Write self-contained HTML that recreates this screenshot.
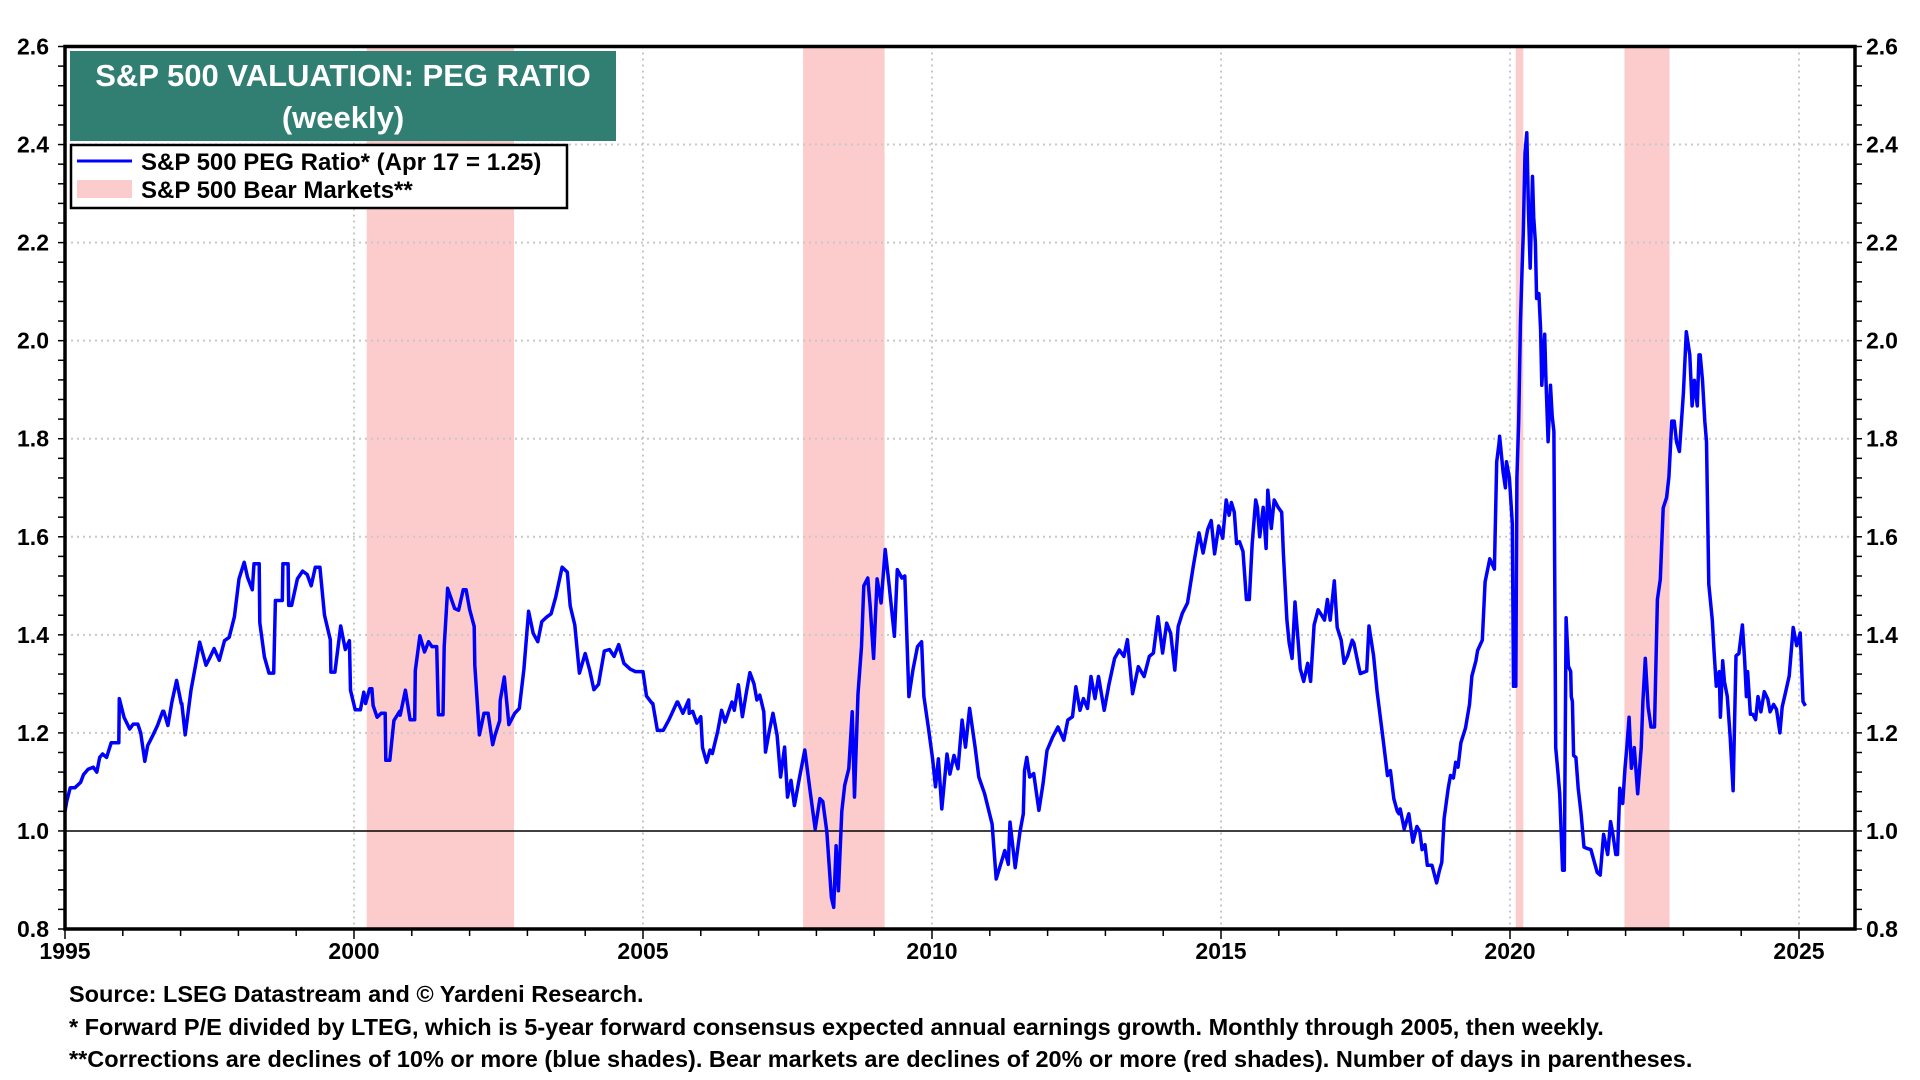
<!DOCTYPE html>
<html><head><meta charset="utf-8"><style>
body{margin:0;background:#fff;}
svg{display:block;font-family:"Liberation Sans",Arial,sans-serif;}
</style></head><body>
<svg id="chart" width="1920" height="1080" viewBox="0 0 1920 1080" xmlns="http://www.w3.org/2000/svg">
<g id="bears"></g>
<g id="grid"></g>
<g id="series"></g>
<g id="axes"></g>
<g>
<rect x="70" y="51" width="546" height="90" fill="#317e72"/>
<text x="343" y="86" text-anchor="middle" font-size="31" font-weight="bold" fill="#fff">S&amp;P 500 VALUATION: PEG RATIO</text>
<text x="343" y="128" text-anchor="middle" font-size="31" font-weight="bold" fill="#fff">(weekly)</text>
</g>
<g>
<rect x="71" y="145" width="496" height="63" fill="#fff" stroke="#000" stroke-width="2.5"/>
<line x1="77" y1="161" x2="132" y2="161" stroke="#0000ff" stroke-width="3"/>
<text x="141" y="170" font-size="24" font-weight="bold">S&amp;P 500 PEG Ratio* (Apr 17 = 1.25)</text>
<rect x="77" y="180" width="55" height="18" fill="#fccccc"/>
<text x="141" y="198" font-size="24" font-weight="bold">S&amp;P 500 Bear Markets**</text>
</g>
<g font-size="23.5" font-weight="bold">
<text x="69" y="1002">Source: LSEG Datastream and © Yardeni Research.</text>
<text x="69" y="1035">* Forward P/E divided by LTEG, which is 5-year forward consensus expected annual earnings growth. Monthly through 2005, then weekly.</text>
<text x="69" y="1067">**Corrections are declines of 10% or more (blue shades). Bear markets are declines of 20% or more (red shades). Number of days in parentheses.</text>
</g>
</svg>
<script>
const yTicks=[0.8,1.0,1.2,1.4,1.6,1.8,2.0,2.2,2.4,2.6];
const yTickLabels=["0.8","1.0","1.2","1.4","1.6","1.8","2.0","2.2","2.4","2.6"];
const xTicks=[1995,2000,2005,2010,2015,2020,2025];
const xTickLabels=["1995","2000","2005","2010","2015","2020","2025"];
const bearStart=[2000.22,2007.77,2020.1,2021.98];
const bearEnd=[2002.77,2009.18,2020.23,2022.76];
const years=[1995.0,1995.03,1995.09,1995.17,1995.27,1995.32,1995.4,1995.49,1995.55,1995.6,1995.65,1995.72,1995.8,1995.93,1995.94,1996.02,1996.12,1996.18,1996.26,1996.31,1996.38,1996.43,1996.52,1996.6,1996.69,1996.71,1996.78,1996.85,1996.93,1997.01,1997.02,1997.08,1997.18,1997.27,1997.33,1997.44,1997.5,1997.58,1997.67,1997.76,1997.84,1997.93,1998.01,1998.1,1998.16,1998.24,1998.27,1998.36,1998.37,1998.45,1998.53,1998.61,1998.64,1998.76,1998.77,1998.86,1998.87,1998.92,1999.02,1999.11,1999.19,1999.26,1999.33,1999.41,1999.49,1999.59,1999.6,1999.67,1999.77,1999.85,1999.92,1999.94,2000.02,2000.11,2000.17,2000.2,2000.27,2000.31,2000.33,2000.4,2000.47,2000.54,2000.55,2000.62,2000.69,2000.79,2000.8,2000.89,2000.97,2001.05,2001.06,2001.14,2001.22,2001.29,2001.35,2001.43,2001.46,2001.54,2001.56,2001.61,2001.62,2001.74,2001.81,2001.89,2001.94,2002.0,2002.08,2002.09,2002.17,2002.25,2002.32,2002.4,2002.44,2002.52,2002.53,2002.6,2002.68,2002.78,2002.86,2002.94,2003.02,2003.1,2003.18,2003.25,2003.33,2003.41,2003.49,2003.6,2003.69,2003.74,2003.82,2003.9,2004.0,2004.08,2004.15,2004.23,2004.33,2004.42,2004.5,2004.58,2004.67,2004.78,2004.87,2005.0,2005.06,2005.16,2005.17,2005.25,2005.35,2005.45,2005.59,2005.6,2005.69,2005.79,2005.8,2005.86,2005.93,2006.0,2006.03,2006.1,2006.16,2006.2,2006.24,2006.29,2006.36,2006.42,2006.49,2006.54,2006.58,2006.65,2006.72,2006.78,2006.85,2006.92,2006.97,2007.02,2007.09,2007.12,2007.19,2007.25,2007.32,2007.38,2007.45,2007.5,2007.56,2007.62,2007.71,2007.8,2007.89,2007.98,2008.06,2008.11,2008.18,2008.26,2008.3,2008.34,2008.38,2008.44,2008.49,2008.56,2008.62,2008.66,2008.72,2008.78,2008.82,2008.89,2008.93,2008.99,2009.05,2009.12,2009.19,2009.26,2009.35,2009.4,2009.48,2009.53,2009.6,2009.67,2009.75,2009.82,2009.86,2009.94,2010.01,2010.06,2010.11,2010.17,2010.26,2010.31,2010.38,2010.45,2010.52,2010.58,2010.65,2010.75,2010.81,2010.91,2011.04,2011.11,2011.26,2011.32,2011.35,2011.44,2011.52,2011.58,2011.6,2011.64,2011.69,2011.76,2011.85,2011.92,2011.99,2012.09,2012.18,2012.28,2012.35,2012.43,2012.49,2012.56,2012.62,2012.69,2012.75,2012.82,2012.88,2012.98,2013.06,2013.16,2013.24,2013.32,2013.38,2013.47,2013.57,2013.67,2013.76,2013.83,2013.91,2013.99,2014.06,2014.13,2014.2,2014.26,2014.33,2014.42,2014.52,2014.62,2014.69,2014.77,2014.83,2014.89,2014.96,2015.03,2015.09,2015.14,2015.18,2015.23,2015.27,2015.32,2015.38,2015.44,2015.49,2015.54,2015.6,2015.63,2015.67,2015.73,2015.78,2015.81,2015.87,2015.92,2015.99,2016.05,2016.08,2016.14,2016.18,2016.23,2016.28,2016.34,2016.37,2016.43,2016.5,2016.55,2016.61,2016.68,2016.74,2016.79,2016.84,2016.89,2016.96,2017.01,2017.08,2017.13,2017.19,2017.27,2017.3,2017.38,2017.41,2017.52,2017.56,2017.64,2017.7,2017.79,2017.88,2017.93,2017.99,2018.05,2018.08,2018.1,2018.17,2018.25,2018.32,2018.39,2018.44,2018.48,2018.53,2018.57,2018.65,2018.73,2018.78,2018.82,2018.86,2018.93,2018.97,2019.02,2019.06,2019.1,2019.15,2019.23,2019.3,2019.34,2019.41,2019.44,2019.52,2019.57,2019.65,2019.73,2019.77,2019.81,2019.82,2019.88,2019.92,2019.94,2019.99,2020.04,2020.06,2020.08,2020.1,2020.12,2020.15,2020.18,2020.21,2020.23,2020.26,2020.29,2020.32,2020.35,2020.39,2020.41,2020.44,2020.46,2020.5,2020.53,2020.55,2020.6,2020.62,2020.66,2020.7,2020.73,2020.76,2020.79,2020.83,2020.86,2020.91,2020.94,2020.97,2021.01,2021.05,2021.06,2021.08,2021.1,2021.14,2021.18,2021.23,2021.28,2021.34,2021.4,2021.46,2021.51,2021.56,2021.62,2021.69,2021.74,2021.78,2021.83,2021.86,2021.9,2021.95,2021.99,2022.02,2022.06,2022.1,2022.15,2022.21,2022.27,2022.3,2022.34,2022.39,2022.44,2022.5,2022.55,2022.6,2022.65,2022.71,2022.75,2022.8,2022.84,2022.88,2022.93,2023.0,2023.05,2023.11,2023.15,2023.19,2023.24,2023.27,2023.29,2023.33,2023.37,2023.4,2023.44,2023.5,2023.53,2023.57,2023.62,2023.64,2023.68,2023.71,2023.76,2023.81,2023.86,2023.91,2023.96,2024.02,2024.06,2024.09,2024.11,2024.16,2024.2,2024.25,2024.29,2024.34,2024.4,2024.46,2024.5,2024.56,2024.61,2024.67,2024.71,2024.77,2024.83,2024.9,2024.96,2025.02,2025.07,2025.11,2025.14,2025.18,2025.22,2025.26,2025.29];
const values=[1.04,1.06,1.088,1.088,1.099,1.115,1.126,1.13,1.12,1.15,1.157,1.15,1.18,1.18,1.27,1.232,1.208,1.218,1.218,1.2,1.142,1.174,1.195,1.215,1.244,1.244,1.215,1.263,1.307,1.26,1.26,1.196,1.287,1.345,1.385,1.338,1.352,1.372,1.348,1.388,1.395,1.437,1.514,1.548,1.517,1.492,1.545,1.545,1.425,1.355,1.322,1.322,1.47,1.47,1.545,1.545,1.46,1.46,1.514,1.53,1.523,1.50,1.538,1.538,1.44,1.39,1.324,1.324,1.418,1.37,1.388,1.287,1.247,1.247,1.283,1.26,1.29,1.29,1.256,1.232,1.24,1.24,1.144,1.144,1.225,1.244,1.236,1.287,1.227,1.227,1.327,1.398,1.365,1.386,1.376,1.376,1.237,1.237,1.376,1.475,1.495,1.454,1.45,1.492,1.492,1.452,1.417,1.338,1.196,1.24,1.24,1.176,1.195,1.225,1.266,1.314,1.217,1.24,1.25,1.33,1.448,1.403,1.386,1.427,1.436,1.443,1.477,1.538,1.528,1.459,1.42,1.322,1.362,1.327,1.288,1.299,1.367,1.37,1.356,1.38,1.342,1.33,1.325,1.325,1.275,1.26,1.26,1.205,1.205,1.227,1.263,1.263,1.24,1.267,1.24,1.244,1.22,1.233,1.17,1.14,1.165,1.158,1.178,1.202,1.246,1.222,1.246,1.263,1.246,1.298,1.233,1.277,1.323,1.30,1.267,1.277,1.243,1.161,1.207,1.24,1.195,1.11,1.171,1.069,1.103,1.052,1.11,1.165,1.083,1.004,1.066,1.06,0.999,0.864,0.844,0.97,0.878,1.04,1.093,1.127,1.243,1.069,1.28,1.376,1.50,1.516,1.458,1.352,1.514,1.465,1.574,1.50,1.397,1.533,1.516,1.52,1.274,1.328,1.376,1.386,1.274,1.209,1.147,1.09,1.147,1.045,1.157,1.116,1.154,1.127,1.226,1.171,1.25,1.168,1.11,1.076,1.014,0.902,0.96,0.932,1.018,0.925,0.997,1.035,1.123,1.15,1.11,1.117,1.042,1.096,1.164,1.192,1.212,1.185,1.226,1.233,1.294,1.246,1.27,1.25,1.315,1.27,1.315,1.246,1.298,1.352,1.369,1.356,1.39,1.28,1.335,1.315,1.356,1.363,1.437,1.363,1.424,1.403,1.328,1.417,1.444,1.465,1.54,1.608,1.567,1.615,1.633,1.565,1.622,1.597,1.675,1.644,1.67,1.65,1.586,1.59,1.57,1.472,1.472,1.586,1.675,1.66,1.60,1.66,1.576,1.695,1.617,1.675,1.66,1.65,1.565,1.43,1.383,1.352,1.467,1.378,1.331,1.305,1.342,1.305,1.42,1.451,1.44,1.43,1.472,1.43,1.51,1.415,1.389,1.342,1.357,1.389,1.383,1.336,1.321,1.326,1.418,1.357,1.284,1.2,1.113,1.123,1.066,1.04,1.035,1.045,1.004,1.035,0.977,1.009,0.999,0.962,0.972,0.93,0.93,0.894,0.92,0.936,1.025,1.087,1.113,1.108,1.14,1.13,1.18,1.21,1.258,1.316,1.347,1.368,1.389,1.508,1.555,1.534,1.753,1.79,1.805,1.732,1.70,1.753,1.72,1.627,1.295,1.43,1.295,1.72,1.836,2.033,2.148,2.22,2.382,2.424,2.263,2.148,2.335,2.252,2.20,2.086,2.096,2.023,1.909,2.013,1.93,1.794,1.909,1.846,1.815,1.17,1.118,1.076,0.92,0.92,1.435,1.336,1.325,1.274,1.264,1.154,1.15,1.087,1.035,0.967,0.964,0.962,0.936,0.915,0.91,0.993,0.952,1.019,0.993,0.952,0.952,1.087,1.056,1.128,1.17,1.232,1.128,1.17,1.076,1.17,1.264,1.352,1.253,1.212,1.212,1.472,1.513,1.659,1.68,1.722,1.836,1.836,1.794,1.774,1.893,2.018,1.971,1.867,1.919,1.867,1.971,1.971,1.919,1.836,1.794,1.503,1.43,1.368,1.295,1.325,1.232,1.347,1.305,1.274,1.191,1.082,1.357,1.362,1.42,1.347,1.274,1.325,1.238,1.238,1.227,1.274,1.243,1.284,1.269,1.243,1.258,1.248,1.2,1.253,1.284,1.316,1.415,1.378,1.404,1.264,1.255];

const NS='http://www.w3.org/2000/svg';
const L=65,R=1855,T=46.5,B=929;
function xS(y){return L+(y-1995)*57.8;}
function yS(v){return B-(v-0.8)/1.8*(B-T);}
function mk(tag,attrs,parent){const e=document.createElementNS(NS,tag);for(const k in attrs)e.setAttribute(k,attrs[k]);parent.appendChild(e);return e;}
const bears=document.getElementById('bears'),grid=document.getElementById('grid'),series=document.getElementById('series'),axes=document.getElementById('axes');
for(let i=0;i<bearStart.length;i++){
 const r=mk('rect',{x:xS(bearStart[i]),y:T,width:xS(bearEnd[i])-xS(bearStart[i]),height:B-T,fill:'#fccccc'},bears);
 
 
}
for(let i=1;i<xTicks.length;i++){
 const g=mk('line',{x1:xS(xTicks[i]),x2:xS(xTicks[i]),y1:T,y2:B,stroke:'#c8c8c8','stroke-width':2,'stroke-dasharray':'2 4'},grid);
 
 
}
for(let i=1;i<yTicks.length-1;i++){
 if(yTicks[i]===1.0)continue;
 const g=mk('line',{x1:L,x2:R,y1:yS(yTicks[i]),y2:yS(yTicks[i]),stroke:'#c8c8c8','stroke-width':2,'stroke-dasharray':'2 4'},grid);
 
 
}
const ref=mk('line',{x1:L,x2:R,y1:yS(1.0),y2:yS(1.0),stroke:'#000','stroke-width':1.5},grid);


let d='';
for(let i=0;i<years.length;i++){d+=(i?'L':'M')+xS(years[i]).toFixed(1)+','+yS(values[i]).toFixed(1);}
const p=mk('path',{d:d,fill:'none',stroke:'#0000ff','stroke-width':3.5,'stroke-linejoin':'round'},series);


const fr=mk('rect',{x:L,y:T,width:R-L,height:B-T,fill:'none',stroke:'#000','stroke-width':3.5},axes);


for(let v=0.8;v<=2.6001;v+=0.04){
 mk('line',{x1:L-7,x2:L,y1:yS(v),y2:yS(v),stroke:'#000','stroke-width':1.5},axes);
 mk('line',{x1:R,x2:R+7,y1:yS(v),y2:yS(v),stroke:'#000','stroke-width':1.5},axes);
}
for(let y=1995;y<=2025;y++){
 mk('line',{x1:xS(y),x2:xS(y),y1:B,y2:B+(y%5===0?10:7),stroke:'#000','stroke-width':1.5},axes);
}
for(let i=0;i<yTicks.length;i++){
 const t1=mk('text',{x:L-16,y:yS(yTicks[i])+8,'text-anchor':'end','font-size':23,'font-weight':'bold'},axes);
 t1.textContent=yTickLabels[i];
 
 
 const t2=mk('text',{x:R+11,y:yS(yTicks[i])+8,'font-size':23,'font-weight':'bold'},axes);
 t2.textContent=yTickLabels[i];
 
 
}
for(let i=0;i<xTicks.length;i++){
 const t=mk('text',{x:xS(xTicks[i]),y:959,'text-anchor':'middle','font-size':23,'font-weight':'bold'},axes);
 t.textContent=xTickLabels[i];
 
 
}
</script>
</body></html>
